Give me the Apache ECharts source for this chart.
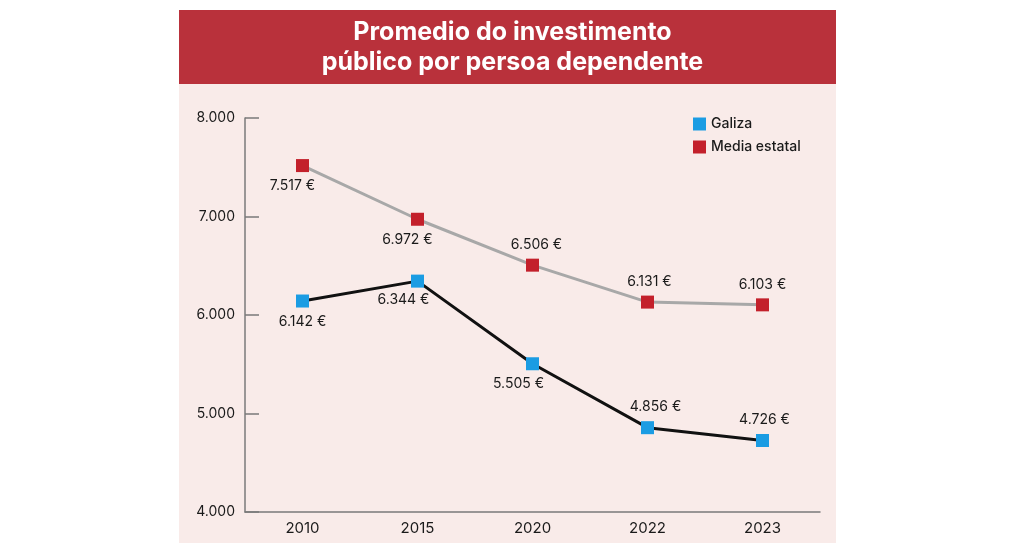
<!DOCTYPE html>
<html>
<head>
<meta charset="utf-8">
<script src="https://cdn.jsdelivr.net/npm/echarts@6/dist/echarts.min.js"></script>
<style>
  html, body { margin: 0; padding: 0; background: #fff; }
  #chart { width: 1025px; height: 552px; }
</style>
</head>
<body>
<div id="chart"></div>
<script>
const years = ['2010', '2015', '2020', '2022', '2023']
const galiza = [6142, 6344, 5505, 4856, 4726]
const mediaEstatal = [7517, 6972, 6506, 6131, 6103]
const yTicks = [4000, 5000, 6000, 7000, 8000]

const fmt = v => String(v).replace(/\B(?=(\d{3})+(?!\d))/g, '.')

// where each value label sits relative to its marker
const galizaLabel = [
  { position: 'bottom', offset: [0, 0] },
  { position: 'bottom', offset: [-14, -2] },
  { position: 'bottom', offset: [-14, 0] },
  { position: 'top', offset: [8, 0] },
  { position: 'top', offset: [2, 0] }
]
const mediaLabel = [
  { position: 'bottom', offset: [-10, 0] },
  { position: 'bottom', offset: [-10, 0] },
  { position: 'top', offset: [4, 0] },
  { position: 'top', offset: [2, 0] },
  { position: 'top', offset: [0, 0] }
]

const chart = echarts.init(document.getElementById('chart'))

const build = (values, labels) => values.map((v, i) => ({
  value: v,
  label: { position: labels[i].position, offset: labels[i].offset }
}))

const option = {
  animation: false,
  textStyle: { fontFamily: 'Inter, Roboto, sans-serif' },
  graphic: [
    { type: 'rect', shape: { x: 179, y: 10, width: 657, height: 533 }, style: { fill: '#f9ebe9' }, z: -10 },
    { type: 'rect', shape: { x: 179, y: 10, width: 657, height: 74 }, style: { fill: '#b9313b' }, z: -9 }
  ],
  title: {
    text: 'Promedio do investimento\npúblico por persoa dependente',
    left: 'center',
    top: 12,
    textStyle: { color: '#fff', fontSize: 25, fontWeight: 'bold', lineHeight: 30, fontFamily: 'Inter, Roboto, sans-serif' }
  },
  legend: {
    orient: 'vertical',
    left: 688,
    top: 112,
    icon: 'rect',
    itemWidth: 13,
    itemHeight: 13,
    itemGap: 9,
    textStyle: { color: '#1a1a1a', fontSize: 14, fontWeight: 500 },
    data: [
      { name: 'Galiza', itemStyle: { color: '#1b9ce3' } },
      { name: 'Media estatal', itemStyle: { color: '#c3202b' } }
    ]
  },
  grid: { left: 245, right: 205, top: 118, bottom: 40 },
  xAxis: {
    type: 'category',
    data: years,
    axisLine: { lineStyle: { color: '#7a7a7a', width: 1.5 } },
    axisTick: { inside: true, length: 11, lineStyle: { color: '#7a7a7a', width: 1.5 } },
    axisLabel: { color: '#1a1a1a', fontSize: 15, margin: 9 }
  },
  yAxis: {
    type: 'value',
    min: yTicks[0],
    max: yTicks[yTicks.length - 1],
    interval: 1000,
    splitLine: { show: false },
    axisLine: { show: true, lineStyle: { color: '#7a7a7a', width: 1.5 } },
    axisTick: { show: true, inside: true, length: 14, lineStyle: { color: '#7a7a7a', width: 1.5 } },
    axisLabel: { color: '#1a1a1a', fontSize: 14, margin: 10, formatter: v => fmt(v) }
  },
  series: [
    {
      name: 'Media estatal',
      type: 'line',
      data: build(mediaEstatal, mediaLabel),
      symbol: 'rect',
      symbolSize: 13,
      lineStyle: { color: '#a8a8a8', width: 3 },
      itemStyle: { color: '#c3202b' },
      label: { show: true, color: '#1a1a1a', fontSize: 14, distance: 7, formatter: p => fmt(p.value) + ' €' }
    },
    {
      name: 'Galiza',
      type: 'line',
      data: build(galiza, galizaLabel),
      symbol: 'rect',
      symbolSize: 13,
      lineStyle: { color: '#111', width: 3 },
      itemStyle: { color: '#1b9ce3' },
      label: { show: true, color: '#1a1a1a', fontSize: 14, distance: 7, formatter: p => fmt(p.value) + ' €' }
    }
  ]
}

chart.setOption(option)
</script>
</body>
</html>
